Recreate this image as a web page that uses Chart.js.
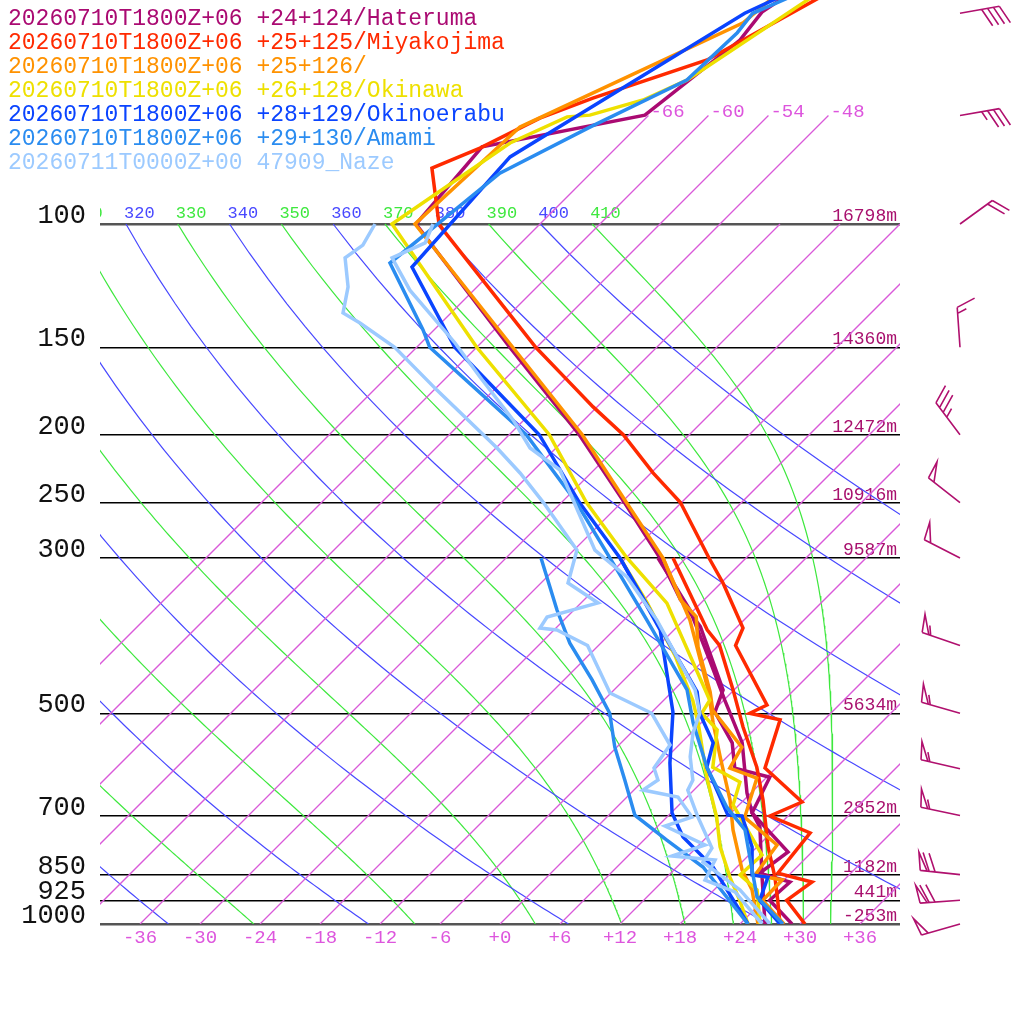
<!DOCTYPE html>
<html>
<head>
<meta charset="utf-8">
<title>Skew-T</title>
<script src="https://cdn.jsdelivr.net/npm/chart.js@4.4.1/dist/chart.umd.min.js"></script>
<style>
  html, body { margin: 0; background: #fff; }
  canvas { display: block; }
</style>
</head>
<body>
<canvas id="skewt" width="1024" height="1024"></canvas>
<script>
// axes
const pressureTicks = [100, 150, 200, 250, 300, 500, 700, 850, 925, 1000];
const heightLabels = ['16798m', '14360m', '12472m', '10916m', '9587m', '5634m', '2852m', '1182m', '441m', '-253m'];
const tempTicks = [-36, -30, -24, -18, -12, -6, 0, 6, 12, 18, 24, 30, 36];
const isotherms = [-66, -60, -54, -48, -42, -36, -30, -24, -18, -12, -6, 0, 6, 12, 18, 24, 30, 36];
const isoLabelTemps = [-66, -60, -54, -48];
const dryThetas = [240, 260, 280, 300, 320, 340, 360, 380, 400];
const moistThetas = [250, 270, 290, 310, 330, 350, 370, 390, 410];
const thetaLabels = [310, 320, 330, 340, 350, 360, 370, 380, 390, 400, 410];

// legend
const stationLabels = [
  '20260710T1800Z+06 +24+124/Hateruma',
  '20260710T1800Z+06 +25+125/Miyakojima',
  '20260710T1800Z+06 +25+126/',
  '20260710T1800Z+06 +26+128/Okinawa',
  '20260710T1800Z+06 +28+129/Okinoerabu',
  '20260710T1800Z+06 +29+130/Amami',
  '20260711T0000Z+00 47909_Naze'
];
const stationColors = ['#aa0a72', '#ff2a00', '#ff9200', '#eee000', '#0a44ff', '#2a8cf0', '#9ccaff'];

// profiles: pressure (hPa) / temperature (C)
const hatTempP = [40, 49.8, 54.6, 69.9, 77.6, 100, 150, 200, 250, 300, 344, 376, 463, 498, 551, 599, 617, 694, 789, 846, 871, 925, 1000];
const hatTemp = [-61.7, -65.0, -64.4, -66.4, -79.5, -78.4, -56.7, -41.0, -29.7, -20.6, -14.4, -9.7, -1.1, 0.3, 5.1, 7.9, 12.3, 14.1, 21.6, 20.9, 24.8, 24.6, 29.2];
const hatDewP = [300, 356, 420, 479, 551, 650, 692, 727, 846, 1000];
const hatDew = [-20.8, -12.4, -5.4, 0.1, 6.1, 11.6, 14.0, 16.3, 21.1, 26.5];

const miyTempP = [40, 58.3, 66.1, 70.6, 77.9, 83.2, 100, 102.7, 150, 167, 182.5, 200, 226.8, 250, 300, 325.7, 377.7, 400, 486.6, 500, 511, 598.6, 669.4, 701, 741, 846, 871, 925, 1000];
const miyTemp = [-56.5, -65.7, -73.3, -76.6, -79.6, -82.4, -76.1, -74.7, -54.1, -47.7, -42.4, -36.6, -29.8, -24.1, -15.7, -11.8, -5.3, -4.3, 4.8, 3.9, 7.6, 10.9, 18.0, 16.2, 21.9, 22.7, 27.0, 26.3, 30.5];
const miyDewP = [300, 380, 400, 463, 523, 597, 665, 776, 857, 925, 1000];
const miyDew = [-19.3, -8.7, -5.9, -0.1, 4.6, 10.0, 13.9, 19.1, 22.8, 25.4, 28.0];

const o126TempP = [40, 51.6, 72.7, 100, 150, 200, 250, 300, 344, 364, 402, 466, 495, 559, 599, 619, 704, 771, 851, 865, 925, 1000];
const o126Temp = [-64.4, -65.8, -77.7, -78.5, -56.4, -40.7, -29.5, -20.3, -14.4, -11.1, -7.9, -2.2, -0.1, 6.5, 7.4, 11.1, 13.8, 19.8, 20.6, 23.8, 23.9, 28.4];
const o126DewP = [300, 368, 463, 516, 577, 665, 734, 837, 894, 1000];
const o126Dew = [-20.3, -11.4, -2.6, 1.2, 5.3, 10.6, 13.9, 18.8, 21.8, 25.8];

const okiTempP = [40, 62.3, 66.5, 69.9, 70.3, 76.6, 100, 150, 200, 250, 300, 348, 479, 500, 528, 597, 627, 676, 797, 851, 894, 1000];
const okiTemp = [-58.9, -65.7, -68.1, -71.9, -74.0, -77.1, -80.8, -60.0, -44.0, -33.5, -23.9, -15.4, -1.4, -0.9, 2.3, 5.6, 9.8, 11.4, 19.3, 19.1, 22.3, 26.0];
const okiDewP = [300, 347, 413, 479, 516, 617, 704, 776, 857, 925, 1000];
const okiDew = [-24.6, -17.5, -9.4, -3.1, -0.3, 6.0, 11.0, 14.3, 18.3, 21.6, 24.8];

const erbTempP = [40, 50, 80.2, 115.2, 150, 200, 250, 300, 466, 500, 551, 597, 699, 701, 776, 851, 857, 925, 1000];
const erbTemp = [-58.8, -66.6, -75.7, -74.5, -62.2, -45.0, -34.2, -24.6, -3.5, -1.1, 3.2, 5.0, 11.9, 13.4, 17.5, 20.3, 22.1, 23.6, 28.0];
const erbDewP = [300, 380, 498, 589, 694, 751, 829, 1000];
const erbDew = [-24.6, -13.4, -3.9, 0.9, 6.1, 9.6, 15.6, 24.8];

const amaTempP = [40, 50, 53.3, 62.3, 72.7, 84.6, 113.7, 141.7, 150, 200, 250, 312, 368, 463, 516, 597, 681, 734, 837, 915, 1000];
const amaTemp = [-57.0, -65.8, -65.4, -65.7, -70.7, -75.1, -77.1, -67.1, -64.7, -46.3, -34.5, -23.7, -15.7, -4.7, -0.8, 5.0, 11.0, 15.1, 19.8, 23.0, 28.3];
const amaDewP = [300, 356, 397, 448, 500, 559, 623, 699, 759, 829, 1000];
const amaDew = [-32.5, -25.7, -21.1, -15.2, -10.1, -6.2, -1.9, 2.6, 8.3, 14.6, 24.8];

const nazTempP = [100, 106.4, 111.8, 124.3, 147.9, 165.4, 190.5, 208.9, 224.6, 292.3, 319.4, 368, 463, 500, 533.5, 577, 623, 644, 703.5, 779, 815.5, 894, 1000];
const nazTemp = [-76.7, -75.6, -77.4, -72.4, -62.6, -56.7, -49.1, -44.6, -39.4, -27.9, -22.0, -14.7, -3.9, -1.1, 0.2, 2.3, 4.9, 5.4, 9.1, 13.6, 14.1, 20.6, 27.0];
const nazDewP = [100, 107.2, 111.8, 123, 134, 138.5, 150, 172.7, 208.9, 226.8, 250, 292.3, 325.7, 347.8, 364.2, 377.7, 380.2, 400, 467.7, 500, 555, 598.6, 622.8, 643.6, 658.6, 703.5, 724.4, 771, 799.5, 810, 865.3, 900, 1000];
const nazDew = [-82.5, -81.6, -82.1, -78.9, -76.8, -74.1, -68.2, -59.7, -47.9, -43.1, -37.8, -29.7, -27.3, -22.3, -26.0, -25.6, -23.7, -19.1, -12.1, -5.9, -0.9, -0.2, 1.4, 0.9, 5.1, 8.5, 6.7, 12.6, 10.4, 15.1, 16.1, 20.3, 26.2];

// wind barbs (Hateruma)
const windP = [50, 70, 100, 150, 200, 250, 300, 400, 500, 600, 700, 850, 925, 1000];
const windDir = [80, 80, 54, 356, 323, 308, 297, 289, 286, 283, 282, 276, 266, 254];
const windKt = [40, 35, 20, 15, 35, 50, 50, 55, 55, 55, 55, 70, 70, 50];

const profileSets = [
  [hatTempP, hatTemp, hatDewP, hatDew],
  [miyTempP, miyTemp, miyDewP, miyDew],
  [o126TempP, o126Temp, o126DewP, o126Dew],
  [okiTempP, okiTemp, okiDewP, okiDew],
  [erbTempP, erbTemp, erbDewP, erbDew],
  [amaTempP, amaTemp, amaDewP, amaDew],
  [nazTempP, nazTemp, nazDewP, nazDew]
];

const KAPPA = 0.2857;
const SKEW = 70;                       // degrees of skew per decade of pressure
const P_TOP = 1000 * Math.pow(10, -924 / 700);
const isoColor = '#d95ad9';
const dryColor = '#4848ff';
const moistColor = '#3ee83e';
const magentaText = '#dd55dd';
const barbColor = '#b0106e';

function skewX(t, p) { return t + SKEW * Math.log10(1000 / p); }
function toPoints(ps, ts) { return ps.map((p, i) => ({ x: skewX(ts[i], p), y: p })); }

function dryAdiabat(theta) {
  const pts = [];
  for (let p = 100; p <= 1000; p += 10) {
    pts.push({ x: skewX(theta * Math.pow(p / 1000, KAPPA) - 273.15, p), y: p });
  }
  return pts;
}

function moistLapse(p, tk) {
  const es = 6.112 * Math.exp(17.67 * (tk - 273.15) / (tk - 29.65));
  const rs = 0.622 * es / (p - es);
  const Lv = 2.501e6, Rd = 287.04, Cp = 1005.7;
  return (Rd * tk + Lv * rs) / (Cp + Lv * Lv * rs * 0.622 / (Rd * tk * tk)) / p;
}

function moistAdiabat(theta) {
  let tk = theta * Math.pow(0.1, KAPPA);
  const pts = [];
  const h = 5;
  for (let p = 100; p <= 1000; p += h) {
    pts.push({ x: skewX(tk - 273.15, p), y: p });
    const k1 = moistLapse(p, tk);
    const k2 = moistLapse(p + h / 2, tk + h / 2 * k1);
    const k3 = moistLapse(p + h / 2, tk + h / 2 * k2);
    const k4 = moistLapse(p + h, tk + h * k3);
    tk += h / 6 * (k1 + 2 * k2 + 2 * k3 + k4);
  }
  return pts;
}

const datasets = [];
const thin = { showLine: true, pointRadius: 0, borderWidth: 1.2, order: 100 };

// 1px lines at exactly 45 degrees come out dark, so the isotherms get a bit more width
isotherms.forEach(t => {
  const top = t <= -48 ? 70 : 100;
  datasets.push({ ...thin, borderWidth: 1.3, borderColor: isoColor, data: [{ x: skewX(t, 1000), y: 1000 }, { x: skewX(t, top), y: top }] });
});
dryThetas.forEach(th => datasets.push({ ...thin, borderColor: dryColor, data: dryAdiabat(th) }));
moistThetas.forEach(th => datasets.push({ ...thin, borderColor: moistColor, data: moistAdiabat(th) }));

profileSets.forEach((s, i) => {
  const line = { showLine: true, pointRadius: 0, borderWidth: 3.5, borderColor: stationColors[i], order: 20 - i };
  datasets.push({ ...line, data: toPoints(s[0], s[1]) });
  datasets.push({ ...line, data: toPoints(s[2], s[3]) });
});

function drawBarb(ctx, x0, y0, dir, kt) {
  const r = dir * Math.PI / 180;
  const ux = Math.sin(r), uy = -Math.cos(r);
  const nx = -uy, ny = ux;
  const L = 40, B = 18, lean = 8;
  const tx = x0 + ux * L, ty = y0 + uy * L;
  ctx.beginPath();
  ctx.moveTo(x0, y0);
  ctx.lineTo(tx, ty);
  let rest = Math.round(kt / 5) * 5;
  let d = 0;
  while (rest >= 50) {
    const ax = tx - ux * d, ay = ty - uy * d;
    ctx.moveTo(ax, ay);
    ctx.lineTo(ax + nx * B + ux * lean * 0.4, ay + ny * B + uy * lean * 0.4);
    ctx.lineTo(ax - ux * 7, ay - uy * 7);
    d += 9;
    rest -= 50;
  }
  while (rest >= 10) {
    const ax = tx - ux * d, ay = ty - uy * d;
    ctx.moveTo(ax, ay);
    ctx.lineTo(ax + nx * B + ux * lean, ay + ny * B + uy * lean);
    d += 6;
    rest -= 10;
  }
  if (rest >= 5) {
    if (d === 0) d = 6;
    const ax = tx - ux * d, ay = ty - uy * d;
    ctx.moveTo(ax, ay);
    ctx.lineTo(ax + nx * B / 2 + ux * lean / 2, ay + ny * B / 2 + uy * lean / 2);
  }
  ctx.stroke();
}

const decor = {
  id: 'decor',
  beforeDatasetsDraw(chart) {
    const { ctx, chartArea, scales: { x, y } } = chart;
    ctx.save();
    ctx.beginPath();
    ctx.rect(chartArea.left, 0, chartArea.right - chartArea.left, chartArea.bottom);
    ctx.clip();
    ctx.textAlign = 'left';
    ctx.textBaseline = 'alphabetic';
    ctx.font = '17px "Liberation Mono"';
    const y100 = y.getPixelForValue(100);
    thetaLabels.forEach(th => {
      const t = th * Math.pow(0.1, KAPPA) - 273.15;
      ctx.fillStyle = th % 20 === 0 ? dryColor : moistColor;
      ctx.fillText(String(th), x.getPixelForValue(skewX(t, 100)) - 2, y100 - 6);
    });
    ctx.restore();

    ctx.save();
    ctx.font = '19px "Liberation Mono"';
    ctx.fillStyle = magentaText;
    ctx.textAlign = 'left';
    const y70 = y.getPixelForValue(70);
    isoLabelTemps.forEach(t => {
      ctx.fillText(String(t), x.getPixelForValue(skewX(t, 70)) + 2, y70 + 1);
    });
    ctx.font = '18px "Liberation Mono"';
    ctx.fillStyle = '#a8106e';
    ctx.textAlign = 'right';
    pressureTicks.forEach((p, i) => {
      ctx.fillText(heightLabels[i], chartArea.right - 3, y.getPixelForValue(p) - 3);
    });
    ctx.restore();
  },
  afterDraw(chart) {
    const { ctx, scales: { y } } = chart;
    ctx.save();
    ctx.font = '23px "Liberation Mono"';
    ctx.textAlign = 'left';
    ctx.textBaseline = 'alphabetic';
    stationLabels.forEach((s, i) => {
      ctx.fillStyle = stationColors[i];
      ctx.fillText(s, 8, 25 + 24 * i);
    });
    ctx.strokeStyle = barbColor;
    ctx.lineWidth = 1.6;
    windP.forEach((p, i) => drawBarb(ctx, 960, y.getPixelForValue(p), windDir[i], windKt[i]));
    ctx.restore();
  }
};

Chart.defaults.font.family = '"Liberation Mono", monospace';

new Chart(document.getElementById('skewt'), {
  type: 'scatter',
  data: { datasets },
  options: {
    responsive: false,
    animation: false,
    devicePixelRatio: 1,
    layout: { padding: { left: 0, right: 124, top: 0, bottom: 0 } },
    plugins: { legend: { display: false }, tooltip: { enabled: false } },
    elements: { line: { tension: 0, fill: false } },
    scales: {
      x: {
        type: 'linear',
        min: -40,
        max: 40,
        bounds: 'data',
        afterBuildTicks: s => { s.ticks = tempTicks.map(v => ({ value: v })); },
        afterFit: s => { s.height = 100; s.paddingLeft = 0; s.paddingRight = 0; },
        grid: { display: false, drawTicks: false },
        border: { display: false },
        ticks: {
          autoSkip: false,
          maxRotation: 0,
          padding: 3,
          color: magentaText,
          font: { size: 19 },
          callback: v => (v >= 0 ? '+' : '-') + Math.abs(v)
        }
      },
      y: {
        type: 'logarithmic',
        reverse: true,
        min: P_TOP,
        max: 1000,
        bounds: 'data',
        afterBuildTicks: s => { s.ticks = pressureTicks.map(v => ({ value: v })); },
        afterFit: s => { s.width = 100; s.paddingTop = 0; s.paddingBottom = 0; },
        grid: {
          drawTicks: false,
          color: c => (c.tick && (c.tick.value === 100 || c.tick.value === 1000)) ? '#555' : '#000',
          lineWidth: c => (c.tick && (c.tick.value === 100 || c.tick.value === 1000)) ? 2.5 : 1.4
        },
        border: { display: false },
        ticks: {
          autoSkip: false,
          padding: 14,
          labelOffset: -8,
          color: '#111',
          font: { size: 27 },
          callback: v => String(v)
        }
      }
    }
  },
  plugins: [decor]
});
</script>
</body>
</html>
